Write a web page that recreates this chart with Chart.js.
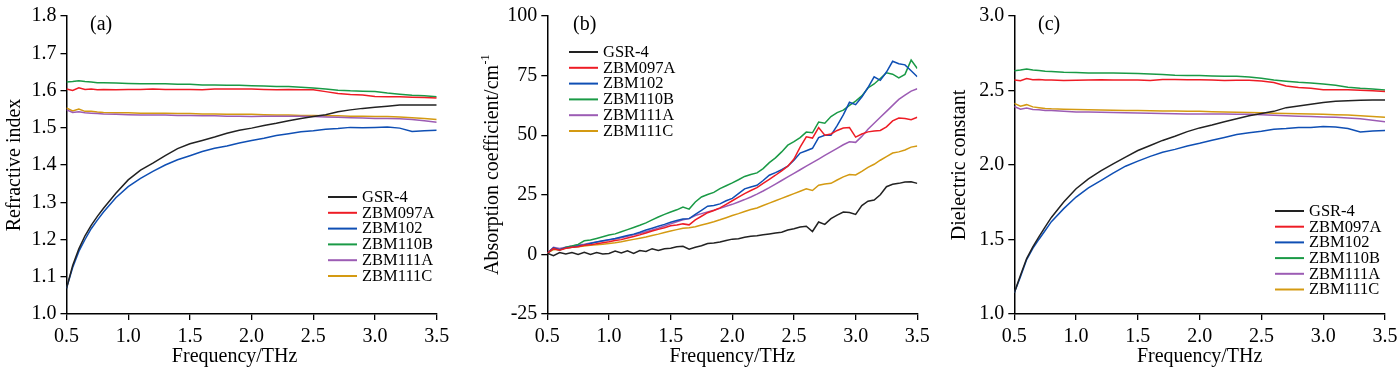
<!DOCTYPE html>
<html><head><meta charset="utf-8">
<script src="https://cdn.jsdelivr.net/npm/chart.js@4/dist/chart.umd.min.js"></script>
<style>
html,body{margin:0;padding:0;background:#fff;width:1400px;height:369px;overflow:hidden;position:relative;}
canvas{position:absolute;top:0;}
</style></head><body>
<canvas id="ca" width="460" height="369" style="left:0px"></canvas>
<canvas id="cb" width="480" height="369" style="left:460px"></canvas>
<canvas id="cc" width="480" height="369" style="left:930px"></canvas>
<script>
// ---------- data ----------
const seriesNames = ["GSR-4","ZBM097A","ZBM102","ZBM110B","ZBM111A","ZBM111C"];
const seriesColors = ["#222222","#ee1c25","#0f4fb4","#1a9a46","#9c5cb4","#d49a12"];

const freqAC = [0.5,0.55,0.6,0.65,0.7,0.75,0.8,0.9,1.0,1.1,1.2,1.3,1.4,1.5,1.6,1.7,1.8,1.9,2.0,2.1,2.2,2.3,2.4,2.5,2.6,2.7,2.8,2.9,3.0,3.1,3.2,3.3,3.4,3.5];

// (a) refractive index
const nGSR4    = [1.069,1.13,1.175,1.21,1.238,1.262,1.284,1.324,1.360,1.386,1.405,1.425,1.444,1.457,1.466,1.475,1.485,1.493,1.499,1.506,1.512,1.519,1.525,1.530,1.535,1.543,1.548,1.552,1.555,1.558,1.561,1.561,1.561,1.561];
const nZBM097A = [1.604,1.600,1.607,1.603,1.604,1.602,1.603,1.602,1.603,1.603,1.604,1.603,1.603,1.603,1.602,1.604,1.604,1.604,1.604,1.603,1.602,1.603,1.602,1.602,1.597,1.592,1.589,1.588,1.584,1.583,1.583,1.582,1.581,1.580];
const nZBM102  = [1.069,1.125,1.168,1.200,1.229,1.252,1.274,1.312,1.342,1.364,1.383,1.400,1.414,1.425,1.436,1.445,1.451,1.459,1.466,1.472,1.479,1.484,1.489,1.492,1.496,1.498,1.501,1.500,1.501,1.502,1.499,1.490,1.492,1.493];
const nZBM110B = [1.623,1.624,1.626,1.624,1.623,1.621,1.621,1.620,1.619,1.618,1.618,1.618,1.617,1.617,1.615,1.615,1.614,1.614,1.613,1.612,1.611,1.611,1.609,1.607,1.604,1.601,1.599,1.598,1.597,1.593,1.590,1.587,1.586,1.583];
const nZBM111A = [1.548,1.541,1.543,1.540,1.539,1.538,1.537,1.536,1.535,1.534,1.534,1.534,1.533,1.533,1.532,1.532,1.531,1.531,1.530,1.531,1.531,1.531,1.531,1.530,1.529,1.528,1.527,1.526,1.525,1.525,1.524,1.522,1.519,1.515];
const nZBM111C = [1.553,1.545,1.550,1.544,1.544,1.542,1.541,1.540,1.540,1.539,1.539,1.539,1.538,1.538,1.537,1.537,1.536,1.536,1.536,1.535,1.534,1.534,1.533,1.533,1.532,1.532,1.531,1.531,1.530,1.530,1.529,1.527,1.525,1.522];

// (c) dielectric constant
const eGSR4    = [1.143,1.26,1.372,1.45,1.52,1.585,1.648,1.752,1.841,1.907,1.96,2.008,2.053,2.097,2.131,2.165,2.193,2.224,2.249,2.268,2.290,2.310,2.330,2.345,2.360,2.385,2.396,2.408,2.420,2.428,2.432,2.434,2.436,2.436];
const eZBM097A = [2.570,2.565,2.580,2.572,2.574,2.570,2.570,2.567,2.568,2.570,2.572,2.570,2.570,2.570,2.567,2.573,2.573,2.572,2.572,2.570,2.567,2.568,2.568,2.563,2.553,2.530,2.520,2.515,2.505,2.505,2.505,2.502,2.498,2.494];
const eZBM102  = [1.143,1.25,1.365,1.44,1.502,1.56,1.62,1.707,1.785,1.847,1.895,1.945,1.992,2.026,2.058,2.085,2.105,2.128,2.146,2.166,2.185,2.205,2.217,2.226,2.240,2.245,2.252,2.252,2.258,2.255,2.245,2.222,2.228,2.231];
const eZBM110B = [2.632,2.638,2.645,2.638,2.635,2.630,2.628,2.623,2.621,2.618,2.618,2.617,2.616,2.614,2.610,2.607,2.603,2.601,2.600,2.597,2.595,2.595,2.591,2.582,2.570,2.562,2.555,2.550,2.543,2.535,2.522,2.515,2.510,2.503];
const eZBM111A = [2.393,2.375,2.382,2.372,2.370,2.366,2.365,2.360,2.356,2.355,2.354,2.352,2.350,2.349,2.348,2.346,2.344,2.343,2.342,2.342,2.342,2.341,2.340,2.337,2.334,2.331,2.328,2.325,2.322,2.320,2.316,2.310,2.300,2.291];
const eZBM111C = [2.414,2.395,2.405,2.390,2.385,2.380,2.377,2.374,2.372,2.370,2.369,2.367,2.366,2.365,2.364,2.363,2.362,2.361,2.360,2.358,2.356,2.354,2.352,2.350,2.348,2.346,2.344,2.342,2.340,2.338,2.336,2.331,2.326,2.320];

// (b) absorption coefficient
const freqB = [0.5,0.55,0.6,0.65,0.7,0.75,0.8,0.85,0.9,0.95,1.0,1.05,1.1,1.15,1.2,1.25,1.3,1.35,1.4,1.45,1.5,1.55,1.6,1.65,1.7,1.75,1.8,1.85,1.9,1.95,2.0,2.05,2.1,2.15,2.2,2.25,2.3,2.35,2.4,2.45,2.5,2.55,2.6,2.65,2.7,2.75,2.8,2.85,2.9,2.95,3.0,3.05,3.1,3.15,3.2,3.25,3.3,3.35,3.4,3.45,3.5];
const aGSR4    = [0.5,-0.5,0.8,0.2,0.8,0.0,0.9,0.0,0.8,0.2,0.4,1.4,0.6,1.5,0.4,1.6,1.2,2.4,1.6,2.4,2.6,3.2,3.4,2.2,3.0,3.6,4.6,4.8,5.2,5.8,6.4,6.6,7.2,7.6,7.8,8.2,8.6,9.0,9.3,10.2,10.8,11.5,11.8,9.6,13.6,12.6,15.0,16.5,17.8,17.6,16.8,20.5,22.3,22.8,25.0,28.4,29.4,29.8,30.4,30.5,29.8];
const aZBM097A = [0.5,2.4,1.8,2.6,3.0,3.2,3.8,4.0,4.5,4.9,5.3,5.8,6.2,6.9,7.5,8.2,9.0,9.8,10.5,11.2,12.0,12.3,12.8,12.4,14.5,16.0,17.5,18.4,19.5,21.0,22.5,24.0,25.5,26.8,28.0,29.8,31.5,33.2,35.0,37.0,40.0,45.0,49.3,48.8,53.2,50.0,50.5,52.0,53.0,53.2,49.2,50.5,51.4,51.8,52.0,53.5,56.0,57.2,57.0,56.5,57.5];
const aZBM102  = [0.5,2.8,2.0,2.8,3.0,3.5,4.0,4.6,5.2,5.7,6.2,6.7,7.3,7.9,8.5,9.3,10.2,11.0,11.8,12.6,13.5,14.2,14.8,15.0,16.8,18.5,20.2,20.5,21.2,22.5,23.5,25.5,27.5,28.3,29.0,31.0,33.2,34.3,35.5,37.0,39.5,42.5,43.5,44.5,49.0,50.0,50.0,54.0,58.5,63.8,62.8,66.0,70.0,74.5,73.0,76.5,81.0,80.0,79.5,77.0,74.5];
const aZBM110B = [0.4,2.5,1.8,3.0,3.5,4.2,5.7,6.0,6.7,7.4,8.1,8.6,9.5,10.4,11.3,12.2,13.2,14.5,15.7,16.8,17.8,18.7,19.9,19.0,22.0,24.1,25.1,26.0,27.6,28.8,30.0,31.3,32.7,33.5,34.2,36.0,38.5,40.5,43.0,45.8,47.3,49.0,51.3,51.0,55.5,55.0,57.8,59.5,60.5,62.5,64.3,66.5,69.8,71.5,73.8,76.2,75.6,74.0,75.5,81.5,78.0];
const aZBM111A = [0.5,3.0,2.5,3.0,3.5,3.9,4.3,4.8,5.2,5.6,6.0,6.5,7.0,7.6,8.2,8.8,9.5,10.2,11.0,11.9,12.8,13.7,14.5,15.0,16.3,17.1,17.8,18.5,19.3,20.2,21.0,22.0,23.0,24.1,25.3,26.6,28.0,29.5,31.0,32.5,34.0,35.5,37.0,38.5,40.0,41.5,43.0,44.5,46.0,47.2,47.0,49.5,52.5,55.0,57.5,60.0,62.5,65.0,66.8,68.5,69.5];
const aZBM111C = [0.5,2.0,2.2,2.6,3.0,3.2,3.5,3.8,4.0,4.3,4.6,4.9,5.3,5.8,6.3,6.8,7.3,7.9,8.5,9.2,9.8,10.4,11.0,11.2,11.6,12.3,13.0,13.7,14.5,15.4,16.3,17.1,18.0,18.8,19.5,20.5,21.5,22.5,23.5,24.5,25.5,26.5,27.5,26.8,29.0,29.5,29.8,31.2,32.5,33.5,33.3,34.8,36.5,37.8,39.5,41.0,42.5,43.0,43.8,45.0,45.5];

// tick values / labels
const xTicks = [0.5,1.0,1.5,2.0,2.5,3.0,3.5];
const yTicksA = [1.0,1.1,1.2,1.3,1.4,1.5,1.6,1.7,1.8];
const yTicksB = [-25,0,25,50,75,100];
const yTicksC = [1.0,1.5,2.0,2.5,3.0];

// ---------- drawing ----------
const FONT = "'Liberation Serif','Times New Roman',serif";

const decor = {
  id: 'decor',
  afterDraw(chart, args, o) {
    const ctx = chart.ctx, ca = chart.chartArea;
    ctx.save();
    ctx.fillStyle = '#000';
    // y title
    ctx.save();
    ctx.translate(o.yTitleX, (ca.top + ca.bottom) / 2);
    ctx.rotate(-Math.PI / 2);
    ctx.font = '20px ' + FONT;
    ctx.textBaseline = 'middle';
    const w1 = ctx.measureText(o.yTitle).width;
    let w2 = 0;
    if (o.yTitleSup) { ctx.font = '12px ' + FONT; w2 = ctx.measureText(o.yTitleSup).width; }
    const start = -(w1 + w2) / 2;
    ctx.font = '20px ' + FONT;
    ctx.textAlign = 'left';
    ctx.fillText(o.yTitle, start, 0);
    if (o.yTitleSup) { ctx.font = '12px ' + FONT; ctx.fillText(o.yTitleSup, start + w1 + 0.5, -7); }
    ctx.restore();
    // x title
    ctx.font = '20px ' + FONT;
    ctx.textAlign = 'center';
    ctx.textBaseline = 'middle';
    ctx.fillText(o.xTitle, (ca.left + ca.right) / 2 + (o.xTitleShift || 0), o.xTitleY);
    // panel label
    ctx.textAlign = 'left';
    ctx.fillText(o.label, o.labelX, o.labelY);
    // legend
    ctx.font = '16.5px ' + FONT;
    chart.data.datasets.forEach((ds, i) => {
      const y = o.legendY + i * o.legendGap;
      ctx.strokeStyle = ds.borderColor;
      ctx.lineWidth = 2;
      ctx.beginPath();
      ctx.moveTo(o.legendX, y);
      ctx.lineTo(o.legendX + 29, y);
      ctx.stroke();
      ctx.fillStyle = '#000';
      ctx.fillText(ds.label, o.legendX + 34, y + 0.5);
    });
    ctx.restore();
  }
};

function makeChart(id, freq, series, ymin, ymax, yTicks, fmt, yWidth, padRight, deco) {
  const datasets = seriesNames.map((n, i) => ({
    label: n,
    data: freq.map((f, j) => ({ x: f, y: series[i][j] })),
    borderColor: seriesColors[i],
    borderWidth: 1.5,
    pointRadius: 0,
    tension: 0,
    fill: false
  }));
  const gridOpt = { drawOnChartArea: false, drawTicks: true, tickLength: 6, color: '#000', lineWidth: 1.3 };
  const borderOpt = { display: true, color: '#000', width: 1.5 };
  return new Chart(document.getElementById(id), {
    type: 'line',
    data: { datasets },
    options: {
      responsive: false, animation: false, devicePixelRatio: 1,
      layout: { padding: { left: 0, right: padRight, top: 15, bottom: 0 } },
      plugins: { legend: { display: false }, tooltip: { enabled: false }, decor: deco },
      scales: {
        x: {
          type: 'linear', min: xTicks[0], max: xTicks[xTicks.length - 1],
          afterBuildTicks: s => { s.ticks = xTicks.map(v => ({ value: v })); },
          ticks: { callback: v => v.toFixed(1), font: { family: FONT, size: 20 }, color: '#000', padding: 5, maxRotation: 0, autoSkip: false },
          grid: gridOpt, border: borderOpt,
          afterFit: s => { s.height = 55; }
        },
        y: {
          type: 'linear', min: ymin, max: ymax,
          afterBuildTicks: s => { s.ticks = yTicks.map(v => ({ value: v })); },
          ticks: { callback: fmt, font: { family: FONT, size: 20 }, color: '#000', padding: 4, autoSkip: false },
          grid: gridOpt, border: borderOpt,
          afterFit: s => { s.width = yWidth; }
        }
      }
    },
    plugins: [decor]
  });
}

makeChart('ca', freqAC, [nGSR4, nZBM097A, nZBM102, nZBM110B, nZBM111A, nZBM111C],
  1.0, 1.8, yTicksA, v => Number(v).toFixed(1), 66.5, 23.3,
  { yTitle: 'Refractive index', yTitleX: 15, xTitle: 'Frequency/THz', xTitleY: 357, xTitleShift: -17,
    label: '(a)', labelX: 90, labelY: 25, legendX: 328, legendY: 197, legendGap: 15.8 });

makeChart('cb', freqB, [aGSR4, aZBM097A, aZBM102, aZBM110B, aZBM111A, aZBM111C],
  -25, 100, yTicksB, v => String(Math.round(v)), 87.3, 22.7,
  { yTitle: 'Absorption coefficient/cm', yTitleSup: '-1', yTitleX: 33, xTitle: 'Frequency/THz', xTitleY: 357, xTitleShift: 0,
    label: '(b)', labelX: 113, labelY: 25, legendX: 109, legendY: 52, legendGap: 15.8 });

makeChart('cc', freqAC, [eGSR4, eZBM097A, eZBM102, eZBM110B, eZBM111A, eZBM111C],
  1.0, 3.0, yTicksC, v => Number(v).toFixed(1), 84.3, 25,
  { yTitle: 'Dielectric constant', yTitleX: 30, xTitle: 'Frequency/THz', xTitleY: 357, xTitleShift: 0,
    label: '(c)', labelX: 108, labelY: 25, legendX: 345, legendY: 211, legendGap: 15.7 });
</script>
</body></html>
